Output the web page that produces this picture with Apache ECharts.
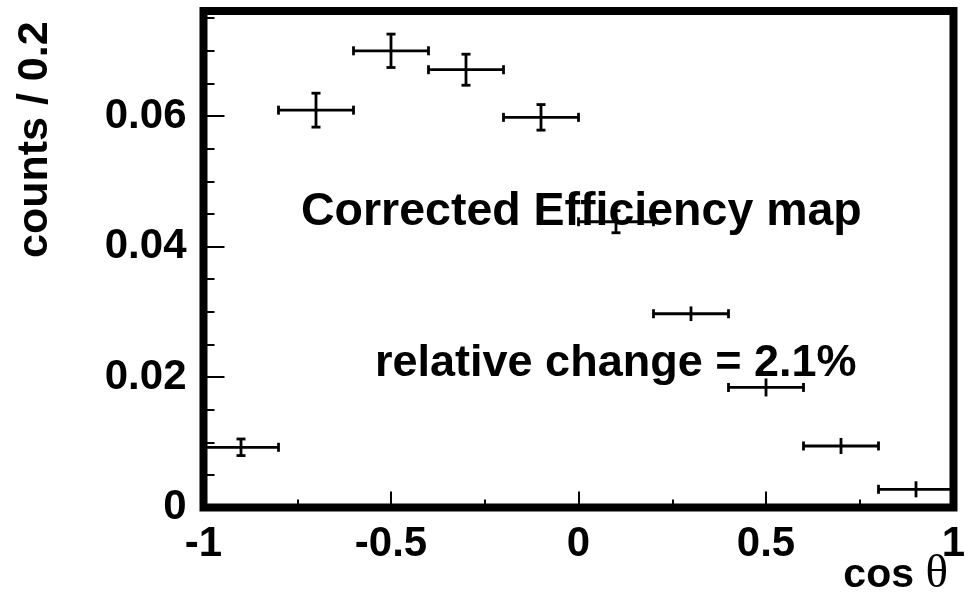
<!DOCTYPE html>
<html>
<head>
<meta charset="utf-8">
<script src="https://cdn.jsdelivr.net/npm/echarts@6/dist/echarts.min.js"></script>
<style>
html, body { margin: 0; padding: 0; background: #fff; }
#chart { width: 978px; height: 600px; }
</style>
</head>
<body>
<div id="chart"></div>
<script>
// Bin centres in cos(theta); every bin is 0.2 wide
const binCenters = [-0.9, -0.7, -0.5, -0.3, -0.1, 0.1, 0.3, 0.5, 0.7, 0.9];
const binHalfWidth = 0.1;
// Normalised counts per bin and their statistical errors
const counts = [0.00923, 0.0609, 0.0700, 0.0671, 0.0598, 0.0438, 0.0297, 0.0184, 0.00943, 0.00279];
const countErrors = [0.00127, 0.0026, 0.00256, 0.00238, 0.00196, 0.00169, 0.00112, 0.00138, 0.00123, 0.00123];

// Axis tick labels
const xTickLabels = ['-1', '-0.5', '0', '0.5', '1'];
const yTickLabels = ['0', '0.02', '0.04', '0.06'];

const X_MIN = -1, X_MAX = 1, X_STEP = 0.5;
const Y_MIN = 0, Y_MAX = 0.0761, Y_STEP = 0.02;

const FONT = 'Liberation Sans, Arial, Helvetica, sans-serif';
const SERIF = 'Liberation Serif, Times New Roman, serif';
const labelStyle = { color: '#000', fontFamily: FONT, fontWeight: 'bold', fontSize: 42 };

const points = binCenters.map((x, i) => [x, counts[i], countErrors[i], i < 6 ? 1 : 0]);

const chart = echarts.init(document.getElementById('chart'), null, { renderer: 'canvas' });

chart.setOption({
  animation: false,
  backgroundColor: '#fff',
  grid: {
    left: 203.5, right: 24.5, top: 11, bottom: 92.5,
    show: true, borderColor: '#000', borderWidth: 8, backgroundColor: 'transparent'
  },
  xAxis: [{
    type: 'value', min: X_MIN, max: X_MAX, interval: X_STEP,
    axisLine: { show: false, onZero: false },
    splitLine: { show: false },
    axisTick: { show: true, inside: true, length: 16, lineStyle: { color: '#000', width: 2 } },
    minorTick: { show: true, splitNumber: 2, length: 8, lineStyle: { color: '#000', width: 2 } },
    axisLabel: Object.assign({}, labelStyle, {
      margin: 16,
      formatter: v => xTickLabels[Math.round((v - X_MIN) / X_STEP)]
    })
  }],
  yAxis: [{
    type: 'value', min: Y_MIN, max: Y_MAX, interval: Y_STEP,
    axisLine: { show: false, onZero: false },
    splitLine: { show: false },
    axisTick: { show: true, inside: true, length: 21, lineStyle: { color: '#000', width: 2 } },
    axisLabel: Object.assign({}, labelStyle, {
      margin: 17, showMaxLabel: false,
      formatter: v => yTickLabels[Math.round((v - Y_MIN) / Y_STEP)] || ''
    })
  }, {
    // minor ticks every 0.005
    type: 'value', min: Y_MIN, max: Y_MAX, interval: 0.005, position: 'left',
    axisLine: { show: false, onZero: false },
    splitLine: { show: false },
    axisLabel: { show: false },
    axisTick: { show: true, inside: true, length: 11, lineStyle: { color: '#000', width: 2 } }
  }],
  graphic: [{
    type: 'text', left: 301, top: 189, z: 10,
    style: { text: 'Corrected Efficiency map', fill: '#000', font: 'bold 46.5px ' + FONT }
  }, {
    type: 'text', left: 375, top: 341, z: 10,
    style: { text: 'relative change = 2.1%', fill: '#000', font: 'bold 45px ' + FONT }
  }, {
    type: 'text', x: 14, y: 258, rotation: Math.PI / 2, z: 10,
    style: { text: 'counts / 0.2', fill: '#000', font: 'bold 43px ' + FONT, align: 'left', verticalAlign: 'top' }
  }, {
    // x-axis title: "cos" in bold sans, theta in serif
    type: 'text', x: 914, y: 576, z: 10,
    style: { text: 'cos', fill: '#000', font: 'bold 41px ' + FONT, align: 'right', verticalAlign: 'middle' }
  }, {
    type: 'text', x: 948, y: 575, z: 10,
    style: { text: 'θ', fill: '#000', font: '47px ' + SERIF, align: 'right', verticalAlign: 'middle' }
  }],
  series: [{
    type: 'custom',
    xAxisIndex: 0, yAxisIndex: 0,
    data: points,
    clip: false,
    renderItem: function (params, api) {
      const x = api.value(0), y = api.value(1), e = api.value(2), capped = api.value(3);
      const c = api.coord([x, y]);
      const l = api.coord([x - binHalfWidth, y]);
      const r = api.coord([x + binHalfWidth, y]);
      const t = api.coord([x, y + e]);
      const b = api.coord([x, y - e]);
      const st = { stroke: '#000', lineWidth: 2.8 };
      const cap = 4.5;
      const kids = [
        { type: 'line', shape: { x1: l[0], y1: c[1], x2: r[0], y2: c[1] }, style: st },
        { type: 'line', shape: { x1: c[0], y1: t[1], x2: c[0], y2: b[1] }, style: st },
        { type: 'line', shape: { x1: l[0], y1: c[1] - cap, x2: l[0], y2: c[1] + cap }, style: st },
        { type: 'line', shape: { x1: r[0], y1: c[1] - cap, x2: r[0], y2: c[1] + cap }, style: st }
      ];
      if (capped) {
        kids.push({ type: 'line', shape: { x1: c[0] - cap, y1: t[1], x2: c[0] + cap, y2: t[1] }, style: st });
        kids.push({ type: 'line', shape: { x1: c[0] - cap, y1: b[1], x2: c[0] + cap, y2: b[1] }, style: st });
      }
      return { type: 'group', children: kids };
    }
  }]
});
</script>
</body>
</html>
